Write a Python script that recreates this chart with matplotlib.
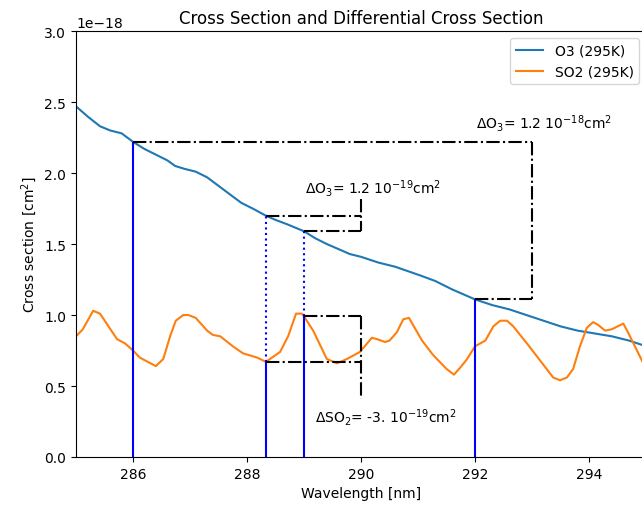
import matplotlib.pyplot as plt
import numpy as np

# O3 cross section (units of 1e-18 cm^2)
wl_o3 = [285.0, 285.2, 285.42, 285.6, 285.8, 286.0, 286.2, 286.4, 286.6, 286.74, 286.9,
         287.1, 287.3, 287.5, 287.7, 287.9, 288.1, 288.33, 288.5, 288.7, 289.0,
         289.2, 289.4, 289.63, 289.8, 290.0, 290.3, 290.6, 291.03, 291.3, 291.6,
         292.0, 292.3, 292.6, 292.9, 293.2, 293.5, 293.8, 294.1, 294.4, 294.7, 295.0]
o3 = [2.47, 2.40, 2.33, 2.30, 2.28, 2.22, 2.17, 2.13, 2.09, 2.05, 2.03,
      2.01, 1.97, 1.91, 1.85, 1.79, 1.75, 1.70, 1.67, 1.64, 1.59,
      1.54, 1.50, 1.46, 1.43, 1.41, 1.37, 1.34, 1.28, 1.24, 1.18,
      1.11, 1.07, 1.04, 1.00, 0.96, 0.92, 0.89, 0.87, 0.85, 0.82, 0.78]

# SO2 cross section (units of 1e-18 cm^2)
wl_so2 = [285.0, 285.12, 285.3, 285.42, 285.72, 285.86, 286.0, 286.12, 286.4, 286.53,
          286.65, 286.75, 286.88, 286.97, 287.1, 287.3, 287.4, 287.53, 287.75, 287.93,
          288.18, 288.33, 288.58, 288.72, 288.86, 288.96, 289.0, 289.16, 289.4, 289.58,
          289.75, 289.98, 290.19, 290.28, 290.42, 290.5, 290.63, 290.74, 290.84, 291.07,
          291.26, 291.5, 291.63, 291.74, 291.86, 292.0, 292.18, 292.32, 292.44, 292.56,
          292.67, 292.91, 293.14, 293.37, 293.49, 293.61, 293.72, 293.84, 293.96, 294.07,
          294.16, 294.28, 294.4, 294.6, 294.68, 294.84, 295.0]
so2 = [0.85, 0.90, 1.03, 1.01, 0.83, 0.80, 0.75, 0.70, 0.64, 0.69,
       0.85, 0.96, 1.00, 1.00, 0.98, 0.89, 0.86, 0.85, 0.78, 0.73,
       0.70, 0.67, 0.74, 0.85, 1.01, 1.01, 0.99, 0.89, 0.69, 0.66,
       0.69, 0.74, 0.84, 0.83, 0.81, 0.82, 0.88, 0.97, 0.98, 0.82,
       0.72, 0.62, 0.58, 0.63, 0.69, 0.78, 0.82, 0.92, 0.96, 0.96,
       0.92, 0.80, 0.68, 0.56, 0.54, 0.56, 0.62, 0.78, 0.91, 0.95,
       0.93, 0.89, 0.90, 0.94, 0.88, 0.75, 0.62]

scale = 1e-18
wl_o3 = np.array(wl_o3)
wl_so2 = np.array(wl_so2)
o3 = np.array(o3) * scale
so2 = np.array(so2) * scale

fig = plt.figure(figsize=(6.42, 5.10), dpi=100)
ax = fig.add_axes([0.1184, 0.102, 0.888, 0.835])

ax.plot(wl_o3, o3, label='O3 (295K)')
ax.plot(wl_so2, so2, label='SO2 (295K)')

# large O3 differential (286 -> 292)
a, b = 286.0, 292.0
ya, yb = np.interp(a, wl_o3, o3), np.interp(b, wl_o3, o3)
ax.vlines([a, b], 0, [ya, yb], color='blue', lw=1.5)
ax.plot([a, 293.0], [ya, ya], 'k-.', lw=1.5)
ax.plot([b, 293.0], [yb, yb], 'k-.', lw=1.5)
ax.plot([293.0, 293.0], [ya, yb], 'k-.', lw=1.5)
ax.text(292.02, 2.32 * scale, r'$\Delta$O$_3$= 1.2 10$^{-18}$cm$^2$', fontsize=10)

# small O3 differential and SO2 differential (288.33 -> 289)
c, d = 288.33, 289.0
oc, od = np.interp(c, wl_o3, o3), np.interp(d, wl_o3, o3)
sc, sd = np.interp(c, wl_so2, so2), np.interp(d, wl_so2, so2)
ax.vlines([c, d], 0, [sc, sd], color='blue', lw=1.5)
ax.vlines([c, d], [sc, sd], [oc, od], color='blue', lw=1.5, linestyles=':')

ax.plot([c, 290.0], [oc, oc], 'k-.', lw=1.5)
ax.plot([d, 290.0], [od, od], 'k-.', lw=1.5)
ax.plot([290.0, 290.0], [1.82 * scale, od], 'k-.', lw=1.5)
ax.text(289.01, 1.86 * scale, r'$\Delta$O$_3$= 1.2 10$^{-19}$cm$^2$', fontsize=10)

ax.plot([d, 290.0], [sd, sd], 'k-.', lw=1.5)
ax.plot([c, 290.0], [sc, sc], 'k-.', lw=1.5)
ax.plot([290.0, 290.0], [sd, 0.41 * scale], 'k-.', lw=1.5)
ax.text(289.2, 0.25 * scale, r'$\Delta$SO$_2$= -3. 10$^{-19}$cm$^2$', fontsize=10)

ax.set_xlim(285, 295)
ax.set_ylim(0, 3e-18)
ax.set_xlabel('Wavelength [nm]')
ax.set_ylabel('Cross section [cm$^2$]')
ax.set_title('Cross Section and Differential Cross Section')
ax.legend(loc='upper right')

fig.savefig('out.png', dpi=100)
